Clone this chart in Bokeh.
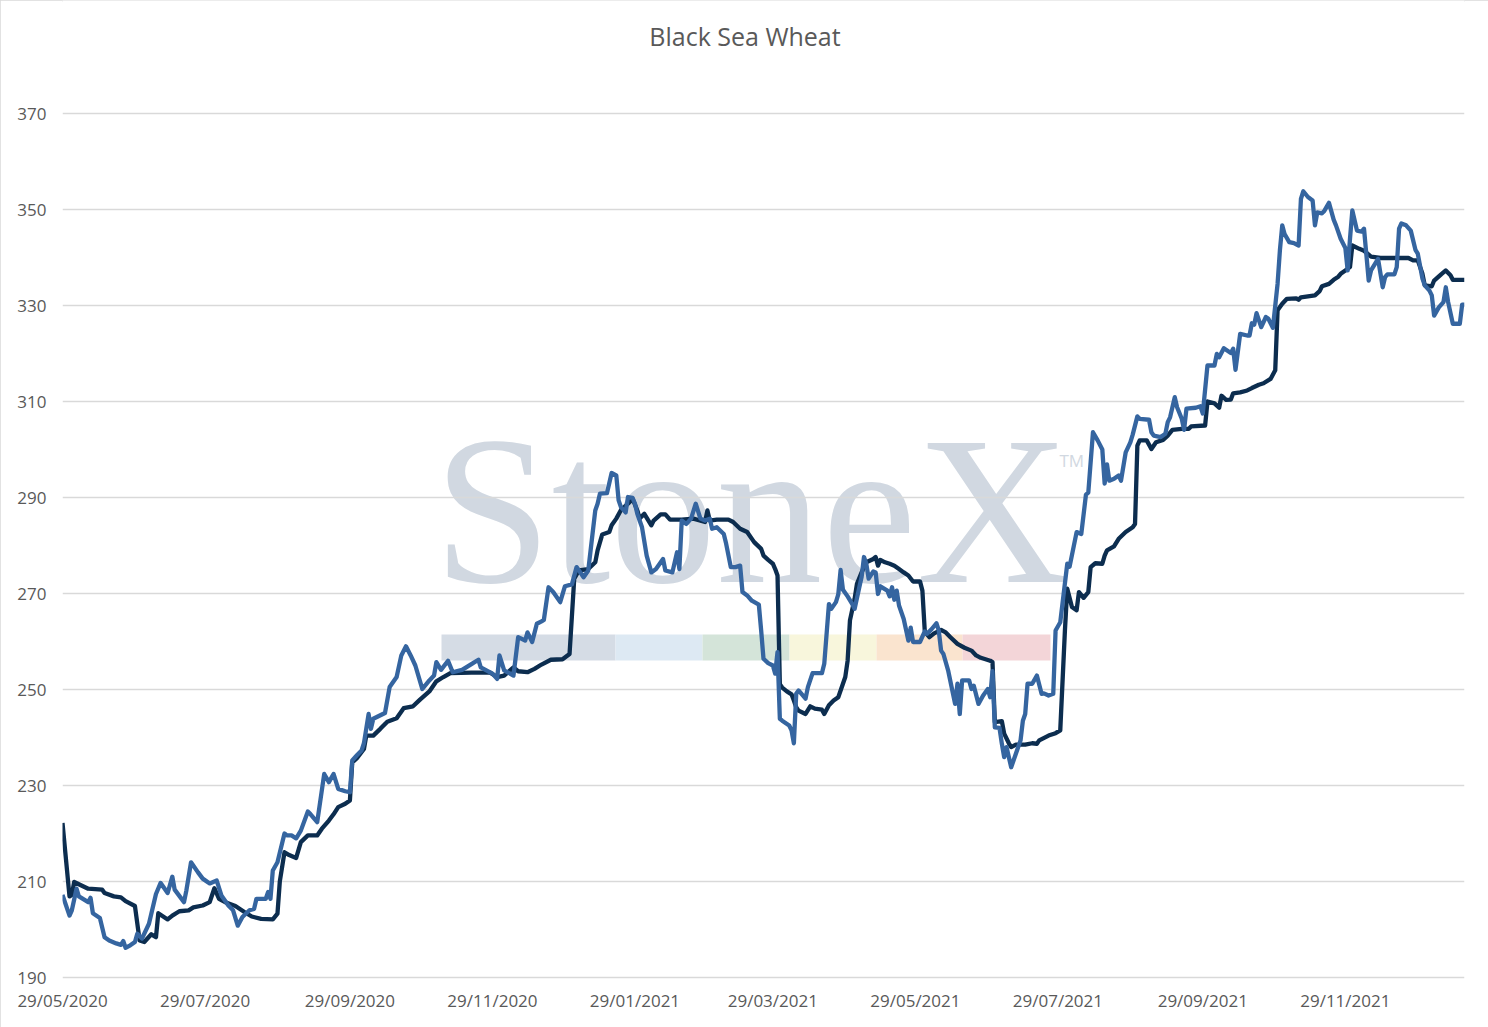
import pandas as pd
from bokeh.plotting import figure
from bokeh.models import (ColumnDataSource, FixedTicker, DatetimeTickFormatter,
                          Label, BoxAnnotation, Range1d)
from bokeh.embed import file_html
from bokeh.resources import INLINE

# ---------------- data ----------------
title_text = "Black Sea Wheat"
y_ticks = [190, 210, 230, 250, 270, 290, 310, 330, 350, 370]
x_tick_dates = ["2020-05-29", "2020-07-29", "2020-09-29", "2020-11-29", "2021-01-29",
                "2021-03-29", "2021-05-29", "2021-07-29", "2021-09-29", "2021-11-29"]
x_end_date = "2022-01-19"

dark_dates = [
    "2020-05-29", "2020-06-01", "2020-06-02", "2020-06-03", "2020-06-09", "2020-06-15", "2020-06-16", "2020-06-20", "2020-06-23", "2020-06-25", "2020-06-29",
    "2020-07-01", "2020-07-03", "2020-07-06", "2020-07-08", "2020-07-09", "2020-07-13", "2020-07-15", "2020-07-18", "2020-07-22", "2020-07-24", "2020-07-28", "2020-07-31",
    "2020-08-02", "2020-08-04", "2020-08-07", "2020-08-11", "2020-08-15", "2020-08-18", "2020-08-22", "2020-08-27", "2020-08-29", "2020-08-30",
    "2020-09-01", "2020-09-03", "2020-09-06", "2020-09-08", "2020-09-11", "2020-09-15", "2020-09-17", "2020-09-20", "2020-09-22", "2020-09-24", "2020-09-27", "2020-09-29", "2020-09-30",
    "2020-10-02", "2020-10-05", "2020-10-06", "2020-10-09", "2020-10-12", "2020-10-15", "2020-10-19", "2020-10-22", "2020-10-26", "2020-10-29",
    "2020-11-02", "2020-11-05", "2020-11-08", "2020-11-11", "2020-11-20", "2020-11-28",
    "2020-12-01", "2020-12-04", "2020-12-08", "2020-12-10", "2020-12-14", "2020-12-17", "2020-12-20", "2020-12-24", "2020-12-29",
    "2021-01-01", "2021-01-03", "2021-01-05", "2021-01-09", "2021-01-12", "2021-01-13", "2021-01-15", "2021-01-18", "2021-01-19", "2021-01-21", "2021-01-23", "2021-01-26", "2021-01-28", "2021-01-30", "2021-01-31",
    "2021-02-02", "2021-02-05", "2021-02-06", "2021-02-09", "2021-02-11", "2021-02-13", "2021-02-18", "2021-02-23", "2021-02-28",
    "2021-03-01", "2021-03-02", "2021-03-05", "2021-03-10", "2021-03-12", "2021-03-15", "2021-03-18", "2021-03-21", "2021-03-24", "2021-03-25", "2021-03-27", "2021-03-29", "2021-03-30", "2021-03-31",
    "2021-04-01", "2021-04-02", "2021-04-04", "2021-04-06", "2021-04-07", "2021-04-08", "2021-04-09", "2021-04-12", "2021-04-14", "2021-04-16", "2021-04-19", "2021-04-20", "2021-04-22", "2021-04-24", "2021-04-26", "2021-04-28", "2021-04-29", "2021-04-30",
    "2021-05-01", "2021-05-03", "2021-05-04", "2021-05-06", "2021-05-08", "2021-05-11", "2021-05-12", "2021-05-13", "2021-05-14", "2021-05-16", "2021-05-18", "2021-05-20", "2021-05-22", "2021-05-24", "2021-05-26", "2021-05-28", "2021-05-31",
    "2021-06-01", "2021-06-02", "2021-06-03", "2021-06-04", "2021-06-06", "2021-06-09", "2021-06-11", "2021-06-13", "2021-06-16", "2021-06-19", "2021-06-22", "2021-06-24", "2021-06-26", "2021-06-30",
    "2021-07-01", "2021-07-02", "2021-07-05", "2021-07-06", "2021-07-08", "2021-07-09", "2021-07-11", "2021-07-15", "2021-07-18", "2021-07-20", "2021-07-21", "2021-07-25", "2021-07-28", "2021-07-30",
    "2021-08-01", "2021-08-02", "2021-08-04", "2021-08-06", "2021-08-07", "2021-08-09", "2021-08-11", "2021-08-12", "2021-08-14", "2021-08-17", "2021-08-18", "2021-08-19", "2021-08-22", "2021-08-24", "2021-08-27", "2021-08-30", "2021-08-31",
    "2021-09-01", "2021-09-02", "2021-09-05", "2021-09-07", "2021-09-09", "2021-09-12", "2021-09-14", "2021-09-16", "2021-09-20", "2021-09-23", "2021-09-24", "2021-09-30",
    "2021-10-01", "2021-10-04", "2021-10-06", "2021-10-07", "2021-10-09", "2021-10-11", "2021-10-12", "2021-10-15", "2021-10-18", "2021-10-20", "2021-10-23", "2021-10-25", "2021-10-28", "2021-10-30", "2021-10-31",
    "2021-11-02", "2021-11-04", "2021-11-08", "2021-11-09", "2021-11-10", "2021-11-16", "2021-11-18", "2021-11-19", "2021-11-22", "2021-11-24", "2021-11-26", "2021-11-27", "2021-11-29",
    "2021-12-01", "2021-12-02", "2021-12-05", "2021-12-07", "2021-12-10", "2021-12-14", "2021-12-23", "2021-12-26", "2021-12-28", "2021-12-30",
    "2022-01-01", "2022-01-02", "2022-01-05", "2022-01-06", "2022-01-09", "2022-01-11", "2022-01-13", "2022-01-14", "2022-01-19",
]
dark_values = [
    222.2, 206.9, 207.2, 209.9, 208.5, 208.3, 207.6, 206.9, 206.7, 205.9, 204.9,
    197.7, 197.4, 199.0, 198.4, 203.4, 202.1, 202.9, 203.8, 204.0, 204.6, 205.0, 205.7,
    208.6, 206.4, 205.6, 204.9, 203.6, 202.7, 202.2, 202.1, 203.3, 210.0,
    216.1, 215.5, 214.9, 218.2, 219.6, 219.6, 221.0, 222.7, 224.0, 225.5, 226.2, 226.9, 234.8,
    235.7, 237.6, 240.4, 240.4, 241.8, 243.3, 244.0, 246.1, 246.5, 247.9,
    249.6, 251.7, 252.6, 253.4, 253.5, 253.5,
    252.6, 252.9, 254.6, 253.8, 253.6, 254.3, 255.2, 256.2, 256.3,
    257.4, 273.1, 274.8, 275.1, 276.5, 279.0, 282.3, 282.8, 284.2, 285.6, 287.4, 288.7, 289.7, 287.3, 285.6,
    286.6, 284.2, 285.2, 286.5, 286.5, 285.4, 285.4, 285.6, 284.9,
    287.3, 285.2, 285.4, 285.4, 284.9, 283.5, 282.8, 280.7, 279.3, 277.9, 277.0, 276.2, 275.1, 273.75,
    251.1, 250.4, 249.6, 249.0, 247.7, 246.3, 245.6, 244.9, 246.5, 246.0, 245.8, 244.9, 246.7, 247.7, 248.4, 251.2, 252.6, 256.0,
    264.4, 268.9, 272.0, 274.4, 276.5, 277.2, 277.6, 275.8, 277.0, 276.5, 276.2, 275.8, 275.1, 274.4, 273.75, 272.5, 272.5,
    270.6, 262.3, 261.5, 260.9, 261.7, 262.4, 261.9, 260.9, 259.5, 258.7, 258.1, 257.1, 256.6, 256.0,
    255.7, 243.2, 243.4, 240.8, 238.8, 238.0, 238.5, 238.5, 238.8, 238.7, 239.4, 240.4, 240.9, 241.5,
    262.3, 271.0, 267.2, 266.5, 270.3, 269.1, 270.3, 275.5, 276.3, 276.2, 277.9, 279.0, 279.8, 281.4, 282.8, 283.8, 284.5,
    300.8, 301.9, 301.9, 300.1, 301.5, 302.0, 302.9, 304.1, 304.3, 304.3, 304.8, 305.0,
    310.0, 309.6, 308.7, 311.2, 310.35, 310.4, 311.7, 311.9, 312.3, 312.8, 313.5, 313.8, 314.7, 316.5, 329.0,
    330.35, 331.4, 331.5, 331.2, 331.7, 332.1, 333.0, 334.0, 334.5, 335.35, 336.0, 336.6, 337.3,
    338.0, 342.5, 341.8, 341.4, 340.2, 339.9, 339.9, 339.9, 339.4, 339.4,
    336.6, 334.2, 334.0, 335.2, 336.5, 337.3, 336.3, 335.35, 335.35,
]

blue_dates = [
    "2020-05-29", "2020-06-01", "2020-06-02", "2020-06-04", "2020-06-05", "2020-06-09", "2020-06-10", "2020-06-11", "2020-06-14", "2020-06-16", "2020-06-18", "2020-06-21", "2020-06-23", "2020-06-24", "2020-06-25", "2020-06-27", "2020-06-29", "2020-06-30",
    "2020-07-02", "2020-07-05", "2020-07-08", "2020-07-10", "2020-07-13", "2020-07-15", "2020-07-16", "2020-07-20", "2020-07-21", "2020-07-23", "2020-07-26", "2020-07-28", "2020-07-31",
    "2020-08-03", "2020-08-05", "2020-08-08", "2020-08-10", "2020-08-12", "2020-08-14", "2020-08-17", "2020-08-19", "2020-08-20", "2020-08-24", "2020-08-25", "2020-08-26", "2020-08-27", "2020-08-29",
    "2020-09-01", "2020-09-02", "2020-09-04", "2020-09-06", "2020-09-08", "2020-09-11", "2020-09-12", "2020-09-15", "2020-09-18", "2020-09-20", "2020-09-22", "2020-09-24", "2020-09-27", "2020-09-29", "2020-09-30",
    "2020-10-02", "2020-10-04", "2020-10-05", "2020-10-07", "2020-10-08", "2020-10-09", "2020-10-14", "2020-10-16", "2020-10-19", "2020-10-21", "2020-10-23", "2020-10-25", "2020-10-27", "2020-10-30",
    "2020-11-02", "2020-11-04", "2020-11-05", "2020-11-07", "2020-11-10", "2020-11-12", "2020-11-16", "2020-11-20", "2020-11-23", "2020-11-24", "2020-11-29",
    "2020-12-01", "2020-12-02", "2020-12-04", "2020-12-08", "2020-12-10", "2020-12-13", "2020-12-14", "2020-12-16", "2020-12-18", "2020-12-20", "2020-12-21", "2020-12-23", "2020-12-25", "2020-12-28", "2020-12-30",
    "2021-01-02", "2021-01-04", "2021-01-07", "2021-01-09", "2021-01-12", "2021-01-13", "2021-01-14", "2021-01-17", "2021-01-19", "2021-01-21", "2021-01-22", "2021-01-23", "2021-01-25", "2021-01-26", "2021-01-28", "2021-01-29", "2021-01-30",
    "2021-02-01", "2021-02-03", "2021-02-05", "2021-02-07", "2021-02-10", "2021-02-11", "2021-02-14", "2021-02-16", "2021-02-17", "2021-02-18", "2021-02-20", "2021-02-22", "2021-02-24", "2021-02-26", "2021-02-28",
    "2021-03-02", "2021-03-03", "2021-03-05", "2021-03-08", "2021-03-09", "2021-03-11", "2021-03-13", "2021-03-15", "2021-03-16", "2021-03-18", "2021-03-20", "2021-03-23", "2021-03-24", "2021-03-25", "2021-03-27", "2021-03-29", "2021-03-30", "2021-03-31",
    "2021-04-01", "2021-04-02", "2021-04-05", "2021-04-06", "2021-04-07", "2021-04-08", "2021-04-09", "2021-04-12", "2021-04-13", "2021-04-15", "2021-04-19", "2021-04-20", "2021-04-22", "2021-04-23", "2021-04-25", "2021-04-26", "2021-04-27", "2021-04-28", "2021-04-30",
    "2021-05-02", "2021-05-03", "2021-05-05", "2021-05-06", "2021-05-07", "2021-05-08", "2021-05-09", "2021-05-11", "2021-05-12", "2021-05-13", "2021-05-14", "2021-05-17", "2021-05-18", "2021-05-19", "2021-05-20", "2021-05-21", "2021-05-22", "2021-05-24", "2021-05-26", "2021-05-27", "2021-05-28", "2021-05-31",
    "2021-06-02", "2021-06-03", "2021-06-05", "2021-06-07", "2021-06-08", "2021-06-09", "2021-06-10", "2021-06-12", "2021-06-15", "2021-06-16", "2021-06-17", "2021-06-18", "2021-06-21", "2021-06-22", "2021-06-23", "2021-06-25", "2021-06-27", "2021-06-29", "2021-06-30",
    "2021-07-01", "2021-07-02", "2021-07-04", "2021-07-05", "2021-07-06", "2021-07-07", "2021-07-09", "2021-07-11", "2021-07-13", "2021-07-14", "2021-07-15", "2021-07-16", "2021-07-18", "2021-07-20", "2021-07-22", "2021-07-23", "2021-07-25", "2021-07-27", "2021-07-28", "2021-07-30",
    "2021-08-02", "2021-08-03", "2021-08-06", "2021-08-08", "2021-08-10", "2021-08-11", "2021-08-13", "2021-08-15", "2021-08-17", "2021-08-18", "2021-08-19", "2021-08-20", "2021-08-22", "2021-08-24", "2021-08-25", "2021-08-27", "2021-08-29", "2021-08-30",
    "2021-09-01", "2021-09-02", "2021-09-06", "2021-09-07", "2021-09-08", "2021-09-11", "2021-09-13", "2021-09-14", "2021-09-15", "2021-09-17", "2021-09-18", "2021-09-20", "2021-09-21", "2021-09-22", "2021-09-26", "2021-09-28", "2021-09-29",
    "2021-10-01", "2021-10-04", "2021-10-05", "2021-10-06", "2021-10-08", "2021-10-11", "2021-10-12", "2021-10-13", "2021-10-15", "2021-10-18", "2021-10-19", "2021-10-20", "2021-10-21", "2021-10-22", "2021-10-24", "2021-10-26", "2021-10-27", "2021-10-29", "2021-10-31",
    "2021-11-01", "2021-11-02", "2021-11-03", "2021-11-05", "2021-11-07", "2021-11-09", "2021-11-10", "2021-11-11", "2021-11-13", "2021-11-15", "2021-11-16", "2021-11-17", "2021-11-19", "2021-11-20", "2021-11-22", "2021-11-24", "2021-11-25", "2021-11-27", "2021-11-29", "2021-11-30",
    "2021-12-01", "2021-12-02", "2021-12-04", "2021-12-06", "2021-12-07", "2021-12-09", "2021-12-10", "2021-12-13", "2021-12-15", "2021-12-16", "2021-12-17", "2021-12-20", "2021-12-21", "2021-12-22", "2021-12-23", "2021-12-25", "2021-12-27", "2021-12-29", "2021-12-30",
    "2022-01-01", "2022-01-02", "2022-01-04", "2022-01-05", "2022-01-06", "2022-01-08", "2022-01-10", "2022-01-11", "2022-01-12", "2022-01-14", "2022-01-17", "2022-01-18", "2022-01-19",
]
blue_values = [
    207.2, 202.9, 204.0, 208.5, 206.9, 205.7, 206.6, 203.4, 202.4, 198.4, 197.7, 197.1, 196.8, 197.6, 196.2, 196.7, 197.4, 199.1,
    198.1, 201.2, 207.4, 209.7, 207.6, 211.0, 208.3, 205.7, 208.1, 214.0, 211.9, 210.6, 209.6,
    210.2, 207.1, 205.0, 204.0, 200.8, 202.6, 204.0, 204.3, 206.4, 206.4, 207.8, 206.4, 212.3, 214.0,
    220.0, 219.6, 219.6, 219.0, 220.6, 224.6, 224.1, 222.35, 232.4, 230.7, 232.4, 229.3, 228.8, 228.6, 235.2,
    236.3, 237.3, 238.8, 244.9, 241.8, 243.9, 245.1, 250.5, 252.6, 257.1, 259.0, 257.1, 255.0, 250.1,
    251.9, 252.9, 255.7, 254.1, 256.0, 253.6, 254.1, 255.3, 256.2, 254.6, 253.3,
    252.2, 257.1, 254.0, 252.9, 260.9, 260.2, 261.9, 259.9, 263.7, 264.2, 264.5, 271.3, 270.3, 268.2, 271.5,
    271.9, 275.5, 273.4, 274.8, 287.3, 288.7, 290.8, 290.9, 295.1, 294.6, 289.4, 288.0, 286.9, 290.1, 289.9, 288.7, 286.6,
    283.8, 277.9, 274.4, 275.1, 277.2, 274.8, 274.4, 278.6, 275.1, 285.2, 284.5, 285.6, 288.7, 285.6, 285.2,
    285.6, 283.5, 283.8, 282.4, 280.4, 275.5, 275.5, 275.8, 270.3, 269.6, 268.5, 267.7, 262.3, 256.4, 255.5, 255.0, 253.3, 257.8,
    243.9, 243.5, 242.5, 241.5, 238.8, 249.1, 249.8, 248.1, 250.5, 253.4, 253.4, 255.35, 267.8, 266.8, 268.2, 269.8, 274.9, 270.8, 269.4,
    267.8, 266.8, 271.3, 273.5, 277.6, 276.2, 273.1, 274.6, 274.4, 269.9, 271.5, 270.6, 269.4, 271.3, 268.7, 270.6, 267.5, 264.7, 260.2, 262.9, 259.9, 259.9,
    262.1, 261.6, 262.6, 263.8, 262.3, 258.1, 257.4, 254.0, 247.0, 251.2, 244.9, 251.9, 251.9, 250.1, 250.8, 247.0, 248.75, 250.1, 248.4,
    253.8, 242.1, 242.0, 238.7, 235.9, 238.0, 233.8, 236.6, 239.4, 243.5, 244.9, 251.2, 251.2, 252.9, 249.1, 249.2, 248.75, 249.1, 262.3, 264.0,
    276.2, 275.6, 282.8, 282.4, 290.6, 291.0, 303.6, 301.9, 300.0, 292.9, 296.9, 293.5, 293.9, 294.6, 293.5, 299.4, 301.5, 303.1,
    306.9, 306.4, 306.2, 303.6, 302.9, 302.6, 303.3, 305.7, 306.7, 310.9, 308.8, 306.4, 304.1, 308.5, 308.7, 309.0, 307.5,
    317.5, 317.5, 319.9, 319.2, 321.1, 320.1, 321.0, 316.6, 324.1, 323.75, 323.75, 326.3, 326.0, 328.4, 325.5, 327.6, 327.3, 325.35, 334.5,
    341.5, 346.7, 344.9, 343.2, 343.0, 342.5, 352.2, 353.8, 352.6, 351.9, 346.7, 349.4, 349.2, 349.7, 351.4, 347.9, 346.7, 343.9, 342.0, 337.3,
    343.9, 349.8, 345.6, 345.4, 346.0, 335.2, 337.3, 339.7, 333.8, 335.9, 336.5, 336.5, 338.0, 346.0, 347.1, 346.7, 345.6, 341.6, 340.8,
    335.6, 334.2, 333.1, 332.1, 327.9, 329.6, 330.7, 333.8, 330.7, 326.2, 326.2, 330.2, 330.2,
]

# ---------------- styling ----------------
DARK = "#0c2d4f"
BLUE = "#3565a0"
GRID = "#d9d9d9"
TEXT = "#595959"
WM = "#d1d8e1"

W, H = 1488, 1027
# layout in canvas pixels: the frame spans the full height down to FRAME_BOTTOM,
# so that the title can sit inside it; grid from 370 (GRID_TOP) to 190 (GRID_BOTTOM)
ML, MR = 62, 24
FRAME_TOP, FRAME_BOTTOM = 0, 979
GRID_TOP, GRID_BOTTOM = 113, 977
MT, MB = FRAME_TOP, H - FRAME_BOTTOM
FW, FH = W - ML - MR, FRAME_BOTTOM - FRAME_TOP

n_d = min(len(dark_dates), len(dark_values))
n_b = min(len(blue_dates), len(blue_values))
dark_src = ColumnDataSource(dict(x=pd.to_datetime(dark_dates[:n_d]), y=dark_values[:n_d]))
blue_src = ColumnDataSource(dict(x=pd.to_datetime(blue_dates[:n_b]), y=blue_values[:n_b]))

x_start = pd.Timestamp(dark_dates[0])
x_end = pd.Timestamp(x_end_date)
xs_ms = x_start.value / 1e6
xe_ms = x_end.value / 1e6
ppu = (GRID_BOTTOM - GRID_TOP) / (y_ticks[-1] - y_ticks[0])
y_lo = y_ticks[0] - (FRAME_BOTTOM - GRID_BOTTOM) / ppu
y_hi = y_ticks[-1] + (GRID_TOP - FRAME_TOP) / ppu

p = figure(width=W, height=H, x_axis_type="datetime",
           x_range=Range1d(x_start, x_end), y_range=Range1d(y_lo, y_hi),
           output_backend="svg", toolbar_location=None,
           min_border_left=ML, min_border_right=MR, min_border_top=MT, min_border_bottom=MB)
p.styles = {"outline": "2px solid #d9d9d9", "outline-offset": "-2px"}
p.background_fill_color = "white"
p.border_fill_color = "white"
p.outline_line_color = None


# helpers: place decorations by pixel position on the canvas
def fx(px):
    return xs_ms + (px - ML) / FW * (xe_ms - xs_ms)


def fy(py):
    return y_lo + (FRAME_BOTTOM - py) / FH * (y_hi - y_lo)


# title
p.add_layout(Label(x=fx(744.5), y=fy(35), text=title_text, text_font="Open Sans",
                   text_font_size="25px", text_color=TEXT, text_align="center",
                   text_baseline="middle"))

# watermark (StoneX logo look-alike)
bar_colors = ["#d5dce5", "#dde9f3", "#d4e4d9", "#f8f6dc", "#fae4cf", "#f3d5d8"]
bar_edges = [441, 615, 702, 789, 876, 962, 1050]
for i, c in enumerate(bar_colors):
    p.add_layout(BoxAnnotation(left=fx(bar_edges[i]), right=fx(bar_edges[i + 1]),
                               top=fy(634), bottom=fy(660), fill_color=c, fill_alpha=1.0,
                               line_color=None, level="image"))
p.add_layout(Label(x=fx(433), y=fy(510), text="StoneX", text_font="Liberation Serif",
                   text_font_size="212px", text_color=WM, text_baseline="alphabetic",
                   text_align="left", level="image"))
p.add_layout(Label(x=fx(1059), y=fy(460), text="TM", text_font="Open Sans",
                   text_font_size="17px", text_color=WM, text_baseline="alphabetic",
                   text_align="left", level="image"))

# series
p.line(x="x", y="y", source=dark_src, line_color=DARK, line_width=4.3, line_join="round")
p.line(x="x", y="y", source=blue_src, line_color=BLUE, line_width=4.3, line_join="round")

# axes
p.xaxis.ticker = FixedTicker(ticks=[pd.Timestamp(d).value / 1e6 for d in x_tick_dates])
fmt = "%d/%m/%Y"
p.xaxis.formatter = DatetimeTickFormatter(microseconds=fmt, milliseconds=fmt, seconds=fmt,
                                          minsec=fmt, minutes=fmt, hourmin=fmt, hours=fmt,
                                          days=fmt, months=fmt, years=fmt)
p.yaxis.ticker = FixedTicker(ticks=y_ticks)
for ax in (p.xaxis, p.yaxis):
    ax.axis_line_color = None
    ax.major_tick_line_color = None
    ax.minor_tick_line_color = None
    ax.major_tick_in = 0
    ax.major_tick_out = 0
    ax.minor_tick_in = 0
    ax.minor_tick_out = 0
    ax.major_label_text_font = "Open Sans"
    ax.major_label_text_font_size = "17px"
    ax.major_label_text_color = TEXT
p.yaxis.major_label_standoff = 16
p.xaxis.major_label_standoff = 9

p.xgrid.visible = False
p.ygrid.ticker = FixedTicker(ticks=y_ticks)
p.ygrid.grid_line_color = GRID
p.ygrid.grid_line_width = 1.3

open("out.html", "w").write(file_html(p, INLINE))
